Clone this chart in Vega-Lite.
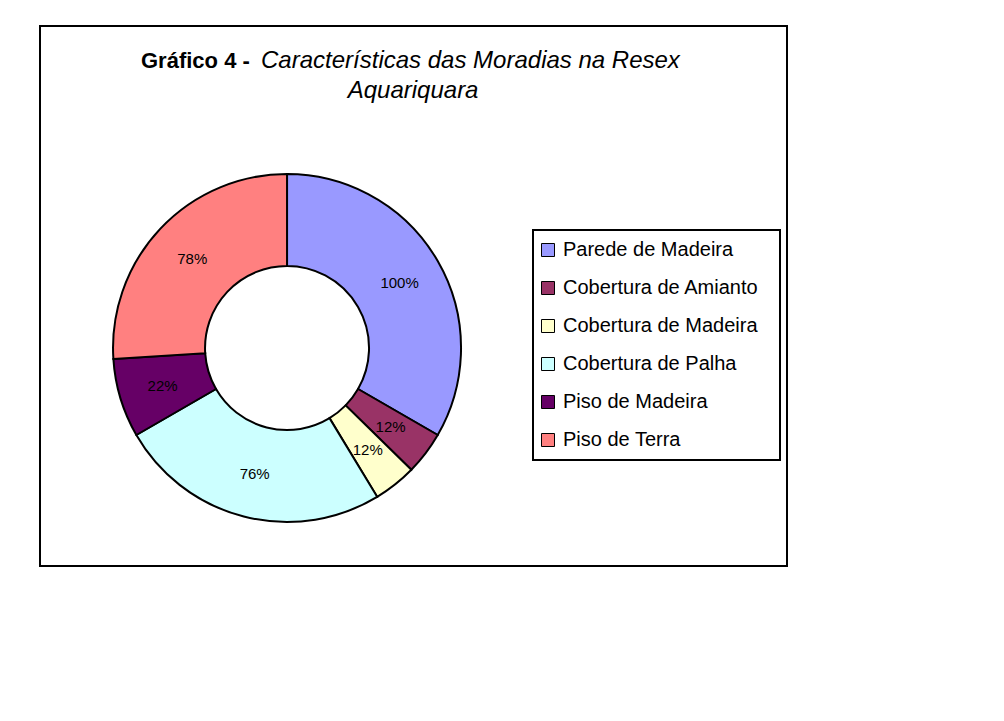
{
  "$schema": "https://vega.github.io/schema/vega-lite/v6.json",
  "width": 747,
  "height": 540,
  "padding": {"left": 40, "top": 26, "right": 5, "bottom": 5},
  "background": "white",
  "title": {
    "text": "Gráfico 4 -",
    "subtitle": ["\u200b\u00a0\u00a0\u00a0\u00a0\u00a0\u00a0\u00a0\u00a0\u00a0\u00a0\u00a0\u00a0\u00a0\u00a0\u00a0\u00a0\u00a0\u00a0Características das Moradias na Resex", "\u200b\u00a0\u00a0\u00a0\u00a0\u00a0\u00a0\u00a0\u00a0\u00a0\u00a0\u00a0\u00a0\u00a0\u00a0\u00a0\u00a0\u00a0\u00a0\u00a0\u00a0\u00a0\u00a0\u00a0\u00a0\u00a0\u00a0\u00a0\u00a0\u00a0\u00a0\u00a0Aquariquara"],
    "anchor": "start",
    "frame": "group",
    "dx": 101,
    "font": "Liberation Sans",
    "fontSize": 22,
    "fontWeight": "bold",
    "fontStyle": "normal",
    "color": "black",
    "subtitleFont": "Liberation Sans",
    "subtitleFontSize": 24,
    "subtitleFontStyle": "italic",
    "subtitleFontWeight": "normal",
    "subtitleColor": "black",
    "subtitlePadding": -24,
    "subtitleLineHeight": 30,
    "offset": -79
  },
  "data": {
    "values": [
      {"item": "Parede de Madeira", "share": 1.00},
      {"item": "Cobertura de Amianto", "share": 0.12},
      {"item": "Cobertura de Madeira", "share": 0.12},
      {"item": "Cobertura de Palha", "share": 0.76},
      {"item": "Piso de Madeira", "share": 0.22},
      {"item": "Piso de Terra", "share": 0.78}
    ]
  },
  "transform": [{"window": [{"op": "row_number", "as": "ordem"}]}],
  "encoding": {
    "theta": {"field": "share", "type": "quantitative", "stack": true},
    "order": {"field": "ordem", "type": "quantitative"}
  },
  "layer": [
    {
      "mark": {
        "type": "arc",
        "outerRadius": 174,
        "innerRadius": 82,
        "stroke": "black",
        "strokeWidth": 2,
        "x": {"expr": "width*0.3307"},
        "y": {"expr": "height*0.5963"}
      },
      "encoding": {
        "color": {
          "field": "item",
          "type": "nominal",
          "sort": null,
          "scale": {
            "domain": ["Parede de Madeira", "Cobertura de Amianto", "Cobertura de Madeira", "Cobertura de Palha", "Piso de Madeira", "Piso de Terra"],
            "range": ["#9999FF", "#993366", "#FFFFCC", "#CCFFFF", "#660066", "#FF8080"]
          },
          "legend": {
            "title": null,
            "orient": "none",
            "legendX": 493,
            "legendY": 204,
            "direction": "vertical",
            "padding": 10,
            "rowPadding": 18,
            "labelOffset": 5,
            "labelLimit": 400,
            "labelExpr": "datum.label + '\u00a0\u00a0\u200b'",
            "labelFont": "Liberation Sans",
            "labelFontSize": 20,
            "labelColor": "black",
            "labelBaseline": "middle",
            "symbolType": "square",
            "symbolSize": 169,
            "symbolOffset": -5,
            "symbolStrokeColor": "black",
            "symbolStrokeWidth": 1,
            "symbolOpacity": 1,
            "strokeColor": "black",
            "fillColor": "white",
            "encode": {"legend": {"update": {"strokeWidth": {"value": 2}}}}
          }
        }
      }
    },
    {
      "mark": {
        "type": "text",
        "radius": 130,
        "font": "Liberation Sans",
        "fontSize": 15,
        "color": "black",
        "x": {"expr": "width*0.3307"},
        "y": {"expr": "height*0.5963"}
      },
      "encoding": {
        "text": {"field": "share", "type": "quantitative", "format": ".0%"}
      }
    }
  ],
  "config": {
    "view": {"stroke": "black", "strokeWidth": 2},
    "style": {"view": {"stroke": "black", "strokeWidth": 2, "fill": "white"}}
  }
}
